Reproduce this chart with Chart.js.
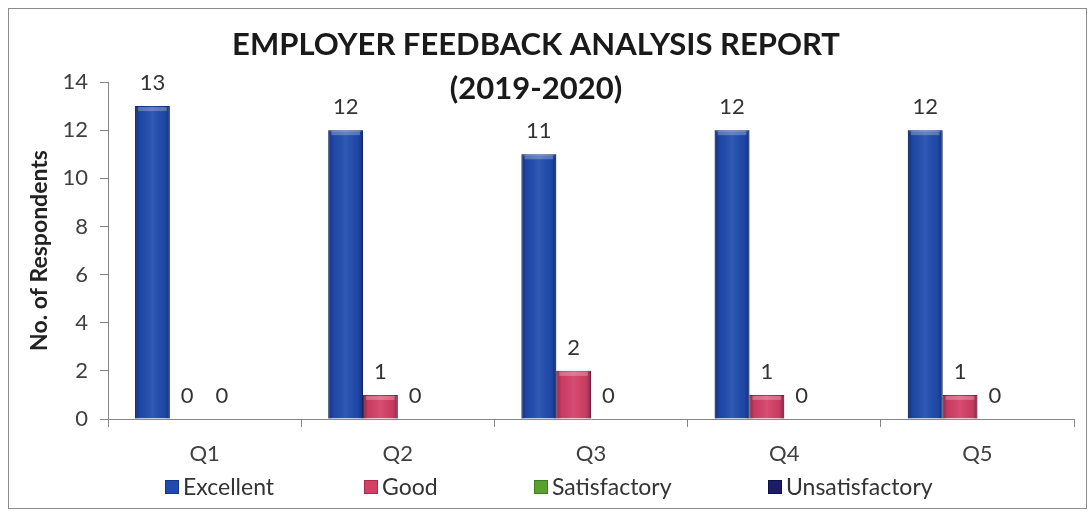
<!DOCTYPE html>
<html>
<head>
<meta charset="utf-8">
<script src="https://cdn.jsdelivr.net/npm/chart.js@4.4.0/dist/chart.umd.min.js"></script>
<style>
    html, body { margin: 0; padding: 0; background: #fff; }
    #wrap { width: 1090px; height: 515px; }
</style>
</head>
<body>
<div id="wrap"><canvas id="grafica" width="1090" height="515"></canvas></div>
<script>
// DATOS DE LA GRAFICA
const categorias = ['Q1', 'Q2', 'Q3', 'Q4', 'Q5'];
const excelente = [13, 12, 11, 12, 12];
const bueno = [0, 1, 2, 1, 1];
const satisfactorio = [0, 0, 0, 0, 0];
const insatisfactorio = [null, null, null, null, null]; // sin valores en el original
const ticksY = [0, 2, 4, 6, 8, 10, 12, 14];
const tituloLineas = ['EMPLOYER FEEDBACK ANALYSIS REPORT', '(2019-2020)'];

const fuente = 'Lato, "Noto Sans", sans-serif';
Chart.defaults.font.family = fuente;

// Titulo, marco y leyenda dibujados a mano (el titulo se mete dentro del area del grafico)
const leyendaX = [165, 364, 534, 768];
const tituloPlugin = {
    id: 'tituloPlugin',
    afterDraw(chart) {
        const ctx = chart.ctx;
        ctx.save();
        ctx.strokeStyle = '#8c8c8c';
        ctx.lineWidth = 1;
        ctx.strokeRect(8.5, 8.5, 1078, 500);

        ctx.fillStyle = '#1a1a1a';
        ctx.font = 'bold 31px ' + fuente;
        ctx.textAlign = 'center';
        ctx.textBaseline = 'middle';
        ctx.fillText(tituloLineas[0], 536, 45);
        ctx.fillText(tituloLineas[1], 536, 89);

        // leyenda
        ctx.font = '23px ' + fuente;
        ctx.textAlign = 'left';
        chart.data.datasets.forEach((ds, i) => {
            const x = leyendaX[i];
            ctx.fillStyle = ds.backgroundColor;
            ctx.fillRect(x, 480, 14, 14);
            ctx.strokeStyle = ds.borderColor;
            ctx.strokeRect(x + 0.5, 480.5, 13, 13);
            ctx.fillStyle = '#333';
            ctx.fillText(ds.label, x + 18, 488);
        });
        ctx.restore();
    }
};

// Sombreado tipo "3D" y etiquetas de valor encima de cada barra
const etiquetasPlugin = {
    id: 'etiquetasPlugin',
    afterDatasetsDraw(chart) {
        const ctx = chart.ctx;
        ctx.save();
        chart.data.datasets.forEach((ds, i) => {
            chart.getDatasetMeta(i).data.forEach((bar, j) => {
                if (ds.data[j] === null || !bar.height) return;
                const l = bar.x - bar.width / 2;
                const g = ctx.createLinearGradient(l, 0, l + bar.width, 0);
                g.addColorStop(0, 'rgba(0,0,20,0.35)');
                g.addColorStop(0.15, 'rgba(0,0,20,0.05)');
                g.addColorStop(0.5, 'rgba(255,255,255,0.08)');
                g.addColorStop(0.85, 'rgba(0,0,20,0.05)');
                g.addColorStop(1, 'rgba(0,0,20,0.35)');
                ctx.fillStyle = g;
                ctx.fillRect(l, bar.y, bar.width, bar.base - bar.y);
                ctx.fillStyle = 'rgba(255,255,255,0.25)';
                ctx.fillRect(l + 3, bar.y + 1, bar.width - 6, 4);
            });
        });

        ctx.font = '22px ' + fuente;
        ctx.fillStyle = '#333';
        ctx.textAlign = 'center';
        ctx.textBaseline = 'alphabetic';
        chart.data.datasets.forEach((ds, i) => {
            const meta = chart.getDatasetMeta(i);
            meta.data.forEach((bar, j) => {
                const v = ds.data[j];
                if (v === null || v === undefined) return;
                ctx.fillText(String(v), bar.x, bar.y - 16);
            });
        });
        ctx.restore();
    }
};

const grafica = new Chart(document.getElementById('grafica'), {
    type: 'bar',
    data: {
        labels: categorias,
        datasets: [
            { label: 'Excellent', data: excelente, backgroundColor: '#1f4bae', borderColor: '#163686', borderWidth: 1 },
            { label: 'Good', data: bueno, backgroundColor: '#d43f66', borderColor: '#a82a4c', borderWidth: 1 },
            { label: 'Satisfactory', data: satisfactorio, backgroundColor: '#5aa02c', borderColor: '#3f7a1c', borderWidth: 1 },
            { label: 'Unsatisfactory', data: insatisfactorio, backgroundColor: '#1c1c6b', borderColor: '#10104a', borderWidth: 1 }
        ]
    },
    options: {
        responsive: false,
        animation: false,
        datasets: { bar: { categoryPercentage: 0.72, barPercentage: 1 } },
        layout: { padding: { top: 82, right: 16, left: 0, bottom: 46 } },
        plugins: {
            tooltip: { enabled: false },
            legend: { display: false }
        },
        scales: {
            x: {
                grid: { drawOnChartArea: false, offset: true, tickLength: 8, color: '#888' },
                border: { color: '#888' },
                ticks: { color: '#404040', padding: 14, font: { size: 22 } },
                afterFit: (s) => { s.height = 50; }
            },
            y: {
                min: 0,
                max: 14,
                afterBuildTicks: (s) => { s.ticks = ticksY.map(v => ({ value: v })); },
                grid: { drawOnChartArea: false, tickLength: 8, color: '#888' },
                border: { color: '#888' },
                ticks: { color: '#404040', padding: 12, font: { size: 22 } },
                title: {
                    display: true,
                    text: 'No. of Respondents',
                    color: '#222',
                    font: { size: 23, weight: 'bold' },
                    padding: { top: 26, bottom: 0 }
                },
                afterFit: (s) => { s.width = 108; }
            }
        }
    },
    plugins: [tituloPlugin, etiquetasPlugin]
});
</script>
</body>
</html>
